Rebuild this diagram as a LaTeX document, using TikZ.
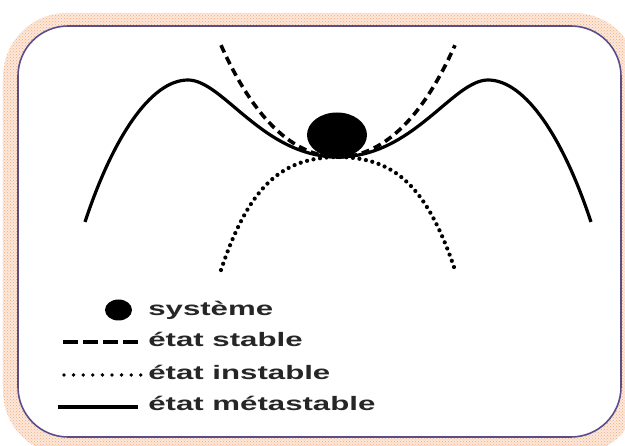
\documentclass[tikz,border=0pt]{standalone}
\usepackage{fontspec}
\setmainfont{Liberation Sans}
\usetikzlibrary{patterns,shapes.geometric}
\definecolor{framecol}{RGB}{88,78,138}
\definecolor{glowcol}{RGB}{242,150,90}
\begin{document}
\begin{tikzpicture}[x=1pt,y=1pt,
  curve/.style={line width=3.2pt,black},
  stable/.style={curve,line width=3.6pt,dash pattern=on 8pt off 5pt},
  unstable/.style={curve,line width=4.2pt,line cap=round,dash pattern=on 0pt off 6.6pt},
  blob/.style={ellipse,fill=black,inner sep=0pt},
  legtext/.style={anchor=base west,inner sep=0pt,xscale=1.6,text=black!85,
    font=\bfseries\fontsize{19.5}{20}\selectfont}]
\useasboundingbox (-338,-289) rectangle (287,157);
% glow round the frame
\fill[glowcol!22,even odd rule]
  [rounded corners=64pt] (-335,-298) rectangle (300,144)
  [rounded corners=50pt] (-320,-280) rectangle (283,131);
\fill[pattern=crosshatch dots,pattern color=glowcol!80,even odd rule]
  [rounded corners=64pt] (-335,-298) rectangle (300,144)
  [rounded corners=50pt] (-320,-280) rectangle (283,131);
\draw[framecol,line width=1.6pt,fill=white,rounded corners=50pt] (-320,-280) rectangle (283,131);
% states
\draw[stable] plot[domain=-1.17:1.17,samples=80] ({100*\x},{68*\x*\x+10*(\x*\x)*(\x*\x)});
\draw[unstable] plot[domain=-1.17:1.17,samples=80] ({100*\x},{-36.7*\x*\x-33.5*(\x*\x)*(\x*\x)});
\foreach \s in {1,-1}
  \draw[curve,xscale=\s] (-253,-65) .. controls (-226,17) and (-188,77) .. (-150,77)
    .. controls (-115,77) and (-75,0) .. (0,0);
\node[blob,minimum width=60pt,minimum height=45pt] (ball) at (-1,22) {};
% legend
\node[blob,minimum width=27pt,minimum height=21pt] (lball) at (-219.5,-153) {};
\node[legtext] (tsys) at (-190,-159) {système};
\node[legtext] (tstab) at (-190,-190) {état stable};
\node[legtext] (tinst) at (-190,-223) {état instable};
\node[legtext] (tmeta) at (-190,-254) {état métastable};
\draw[stable,line width=3.4pt,dash pattern=on 15pt off 5pt] (-275,-185) -- (-198,-185);
\draw[unstable,line width=3.8pt,dash pattern=on 0pt off 9.6pt] (-274,-218) -- (-197,-218);
\draw[curve] (-280,-250) -- (-200,-250);
\end{tikzpicture}
\end{document}
